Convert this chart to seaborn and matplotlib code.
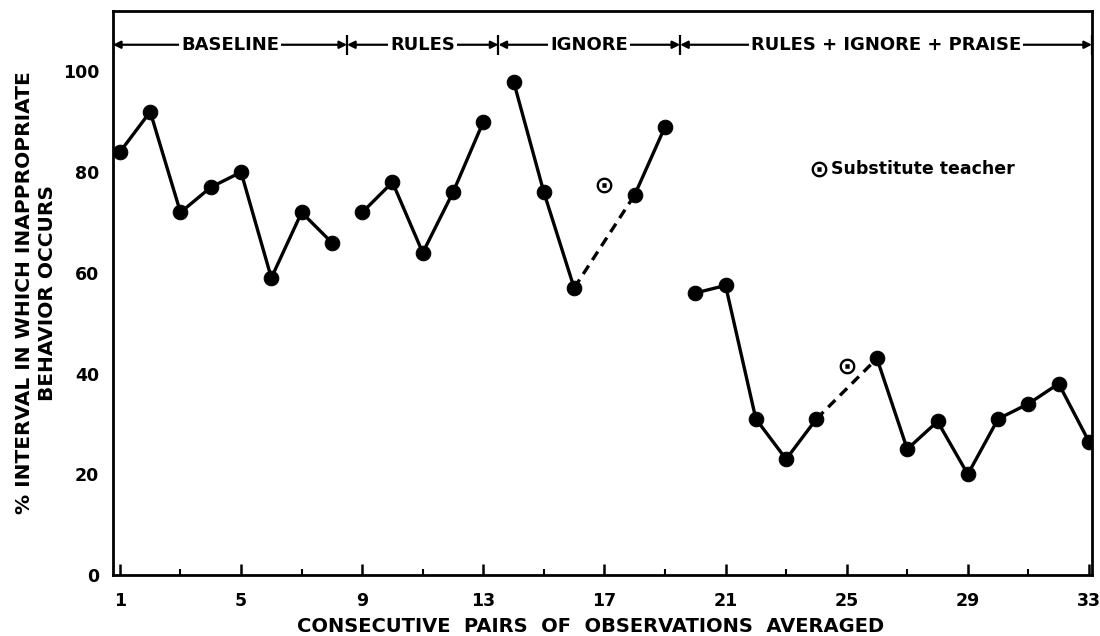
"""Disruptive behaviour across classroom conditions (reversal design chart)."""

import matplotlib

matplotlib.use("Agg")
import matplotlib.pyplot as plt
import numpy as np
import pandas as pd
import seaborn as sns

# --- data ------------------------------------------------------------------
sessions = list(range(1, 34))
pct_inappropriate = [
    84, 92, 72, 77, 80, 59, 72, 66,          # baseline
    72, 78, 64, 76, 90,                      # rules
    98, 76, 57, np.nan, 75.5, 89,            # ignore
    56, 57.5, 31, 23, 31, np.nan, 43, 25, 30.5, 20, 31, 34, 38, 26.5,
]
phase_names = ["BASELINE", "RULES", "IGNORE", "RULES + IGNORE + PRAISE"]
phase_start = [1, 9, 14, 20]
substitute_sessions = [17, 25]
substitute_pct = [77.5, 41.5]
x_ticks_major = [1, 5, 9, 13, 17, 21, 25, 29, 33]
y_ticks = [0, 20, 40, 60, 80, 100]

# --- build table ------------------------------------------------------------
df = pd.DataFrame({"session": sessions, "pct": pct_inappropriate})
df["phase"] = np.searchsorted(phase_start, df["session"], side="right") - 1
# split a phase into separate runs wherever a substitute day is missing
gap = df["pct"].isna().cumsum()
df["segment"] = df["phase"].astype(str) + "_" + gap.astype(str)
df = df.dropna(subset=["pct"])

sns.set_theme(style="ticks")
plt.rcParams["font.family"] = ["DejaVu Sans"]
plt.rcParams["font.weight"] = "bold"
for key in ["text.color", "axes.labelcolor", "xtick.color", "ytick.color"]:
    plt.rcParams[key] = "black"

fig, ax = plt.subplots(figsize=(11, 6.36), dpi=100)
fig.subplots_adjust(left=0.1027, right=0.9927, bottom=0.0959, top=0.9827)

sns.lineplot(
    data=df, x="session", y="pct", units="segment", estimator=None,
    color="black", linewidth=2.4, marker="o", markersize=10.5,
    markeredgecolor="black", markerfacecolor="black", ax=ax,
)

# dashed bridge over each substitute-teacher day
for s in substitute_sessions:
    pair = df[df["session"].isin([s - 1, s + 1])]
    ax.plot(pair["session"], pair["pct"], color="black", linewidth=2.4,
            linestyle=(0, (3, 2)), zorder=1)

sub = pd.DataFrame({"session": substitute_sessions, "pct": substitute_pct})
sns.scatterplot(data=sub, x="session", y="pct", marker=r"$\odot$", s=130,
                color="black", linewidth=0, ax=ax, label="Substitute teacher")

xmin, xmax = 0.77, 33.1
ax.set_xlim(xmin, xmax)
ax.set_ylim(0, 112)

# phase bands along the top
bounds = [xmin] + [p - 0.5 for p in phase_start[1:]] + [xmax]
y_phase = 105.3
for name, a, b in zip(phase_names, bounds[:-1], bounds[1:]):
    ax.annotate("", xy=(a, y_phase), xytext=(b, y_phase),
                arrowprops=dict(arrowstyle="<|-|>", color="black", lw=1.6,
                                mutation_scale=11, shrinkA=0, shrinkB=0))
    ax.text((a + b) / 2, y_phase, name, ha="center", va="center",
            fontsize=13, fontweight="bold",
            bbox=dict(facecolor="white", edgecolor="none", pad=1.5))
ax.vlines(bounds, y_phase - 2, y_phase + 2, color="black", lw=1.6)

# axes cosmetics
for side in ["left", "right", "top", "bottom"]:
    ax.spines[side].set_visible(True)
    ax.spines[side].set_color("black")
    ax.spines[side].set_linewidth(2)

ax.set_xticks(x_ticks_major)
ax.set_xticks([t + 2 for t in x_ticks_major[:-1]], minor=True)
ax.set_yticks(y_ticks)
ax.tick_params(axis="x", which="major", direction="in", length=8, width=1.8,
               labelsize=12.5, pad=12)
ax.tick_params(axis="x", which="minor", direction="in", length=4, width=1.5)
ax.tick_params(axis="y", length=0, labelsize=12.5, pad=10)
for lab in ax.get_xticklabels() + ax.get_yticklabels():
    lab.set_fontweight("bold")

ax.set_xlabel("CONSECUTIVE  PAIRS  OF  OBSERVATIONS  AVERAGED",
              fontsize=14, fontweight="bold")
ax.xaxis.set_label_coords(0.488, -0.092)
ax.xaxis.label.set_va("center")
ax.set_ylabel("% INTERVAL IN WHICH INAPPROPRIATE\nBEHAVIOR OCCURS",
              fontsize=14.5, fontweight="bold", linespacing=1.25)
ax.yaxis.set_label_coords(-0.057, 0.5)

leg = ax.legend(loc="center left", bbox_to_anchor=(0.705, 0.72), frameon=False,
                handletextpad=0.2, handlelength=1.0, borderaxespad=0,
                prop={"size": 12.5, "weight": "bold"})

fig.savefig("out.png", dpi=100, facecolor="white")
